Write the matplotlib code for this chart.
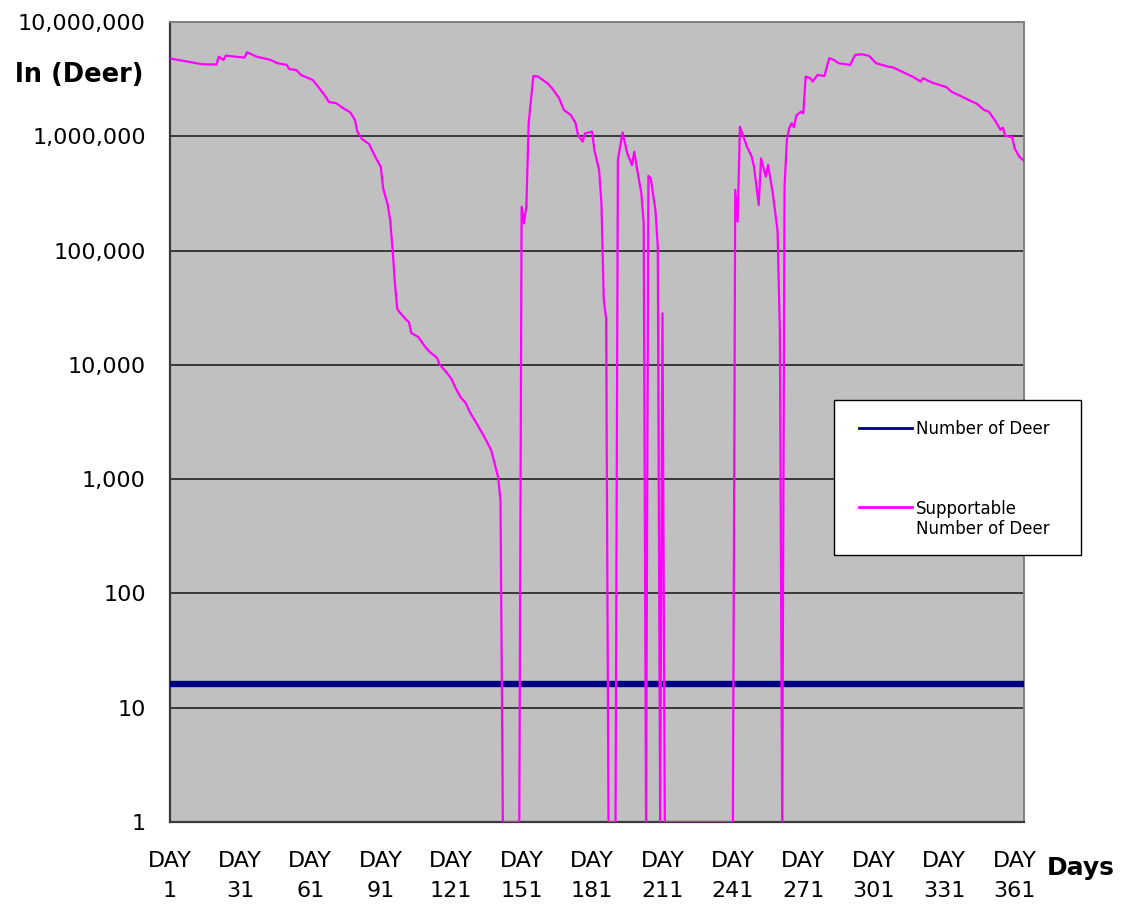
import matplotlib
matplotlib.use("Agg")
import matplotlib.pyplot as plt
from matplotlib.lines import Line2D
from matplotlib.patches import Rectangle

plt.rcParams.update({"font.family": "DejaVu Sans"})

# days shown on the category axis
tick_days = [1, 31, 61, 91, 121, 151, 181, 211, 241, 271, 301, 331, 361]

# Number of Deer (flat all year)
deer_days = [1, 365]
deer_count = [16, 16]

# Supportable Number of Deer at its breakpoints
supp_days = [1, 15, 21, 22, 24, 25, 33, 34, 38, 44, 47, 51, 52, 55, 57, 62, 64, 67,
             69, 72, 75, 78, 80, 81, 83, 86, 89, 91, 92, 94, 95, 96, 97, 98, 99, 102,
             103, 104, 107, 110, 112, 115, 116, 119, 121, 123, 125, 127, 129, 131,
             133, 135, 138, 141, 142, 143, 150, 151, 152, 153, 154, 156, 158, 160,
             162, 164, 167, 169, 172, 174, 175, 177, 178, 181, 182, 184, 185, 186,
             187, 188, 191, 192, 194, 196, 198, 199, 200, 202, 203, 204, 205, 206,
             208, 209, 210, 211, 212, 241, 242, 243, 244, 247, 249, 250, 252, 253,
             255, 256, 258, 260, 261, 262, 263, 264, 265, 266, 267, 268, 270, 271,
             272, 274, 275, 277, 280, 282, 284, 286, 291, 293, 296, 299, 302, 307,
             309, 314, 318, 321, 322, 326, 332, 334, 338, 342, 345, 348, 350, 352,
             353, 355, 356, 357, 360, 361, 363, 365]
supp_count = [4800000, 4270000, 4250000, 4980000, 4660000, 5080000, 4880000, 5440000,
              4980000, 4660000, 4360000, 4210000, 3880000, 3800000, 3440000, 3110000,
              2770000, 2300000, 1990000, 1950000, 1760000, 1620000, 1390000, 1100000,
              946000, 855000, 641000, 542000, 351000, 250000, 185000, 105000, 53000,
              31000, 28900, 24600, 23700, 19000, 17500, 14300, 12900, 11500, 10100,
              8600, 7600, 6200, 5200, 4700, 3850, 3280, 2790, 2370, 1800, 1040, 650,
              1, 1, 242000, 173000, 242000, 1300000, 3370000, 3330000, 3110000,
              2910000, 2630000, 2150000, 1700000, 1530000, 1300000, 1030000, 897000,
              1060000, 1100000, 758000, 507000, 259000, 36800, 25500, 1, 1, 620000,
              1080000, 710000, 560000, 733000, 542000, 317000, 173000, 1, 450000,
              430000, 226000, 108000, 1, 28200, 1, 1, 340000, 179000, 1210000,
              811000, 663000, 542000, 250000, 641000, 443000, 561000, 317000, 151000,
              20100, 1, 362000, 929000, 1180000, 1300000, 1200000, 1520000, 1640000,
              1590000, 3330000, 3220000, 3010000, 3440000, 3370000, 4820000, 4660000,
              4360000, 4210000, 5150000, 5220000, 5050000, 4360000, 4070000, 4020000,
              3600000, 3290000, 3010000, 3220000, 2940000, 2690000, 2460000, 2250000,
              2050000, 1920000, 1700000, 1640000, 1440000, 1340000, 1140000, 1190000,
              1010000, 980000, 785000, 663000, 611000]

y_ticks = [1, 10, 100, 1000, 10000, 100000, 1000000, 10000000]

NAVY, MAGENTA = "#000080", "#ff00ff"

fig = plt.figure(figsize=(11.27, 9.05), dpi=100)
ax = fig.add_axes([169.5 / 1127, 1 - 822 / 905, (1024 - 169.5) / 1127, (822 - 22) / 905])
ax.set_facecolor("#c0c0c0")

ax.plot(deer_days, deer_count, color=NAVY, lw=4.6, solid_capstyle="butt", zorder=3)
ax.plot(supp_days, supp_count, color=MAGENTA, lw=1.6, zorder=4)

ax.set_yscale("log")
ax.set_ylim(1, 1e7)
ax.set_xlim(1, 365)
ax.set_yticks(y_ticks)
ax.set_yticklabels([f"{v:,}" for v in y_ticks])
ax.yaxis.set_minor_locator(matplotlib.ticker.NullLocator())
ax.set_xticks(tick_days)
ax.set_xticklabels([f"DAY\n{d}" for d in tick_days], linespacing=1.6)
ax.tick_params(axis="y", length=0, pad=17, labelsize=16)
ax.tick_params(axis="x", length=0, pad=21, labelsize=16)
ax.grid(axis="y", color="#2e2e2e", lw=1.3)
ax.set_axisbelow(True)
for side in ("left", "bottom"):
    ax.spines[side].set_color("#3a3a3a")
    ax.spines[side].set_linewidth(1.6)
for side in ("top", "right"):
    ax.spines[side].set_color("#808080")
    ax.spines[side].set_linewidth(1.4)

fig.text(15 / 1127, 1 - 81.7 / 905, "ln (Deer)", fontsize=18.5, fontweight="bold",
         ha="left", va="baseline")
fig.text(1047 / 1127, 1 - 875 / 905, "Days", fontsize=18, fontweight="bold",
         ha="left", va="baseline")

# legend box (sits partly outside the plot area, as in the original)
fig.patches.append(Rectangle((834 / 1127, 1 - 555 / 905), (1081 - 834) / 1127,
                             (555 - 400) / 905, transform=fig.transFigure,
                             facecolor="white", edgecolor="black", lw=1.0, zorder=5))
for y, col in ((428.3, NAVY), (506.7, MAGENTA)):
    fig.lines.append(Line2D([859 / 1127, 912 / 1127], [1 - y / 905] * 2,
                            transform=fig.transFigure, color=col, lw=2.0, zorder=6))
fig.text(916 / 1127, 1 - 428.5 / 905, "Number of Deer", fontsize=12,
         ha="left", va="center", zorder=7)
fig.text(916 / 1127, 1 - 519 / 905, "Supportable\nNumber of Deer", fontsize=12,
         ha="left", va="center", linespacing=1.15, zorder=7)

fig.savefig("out.png", dpi=100, facecolor="white")
